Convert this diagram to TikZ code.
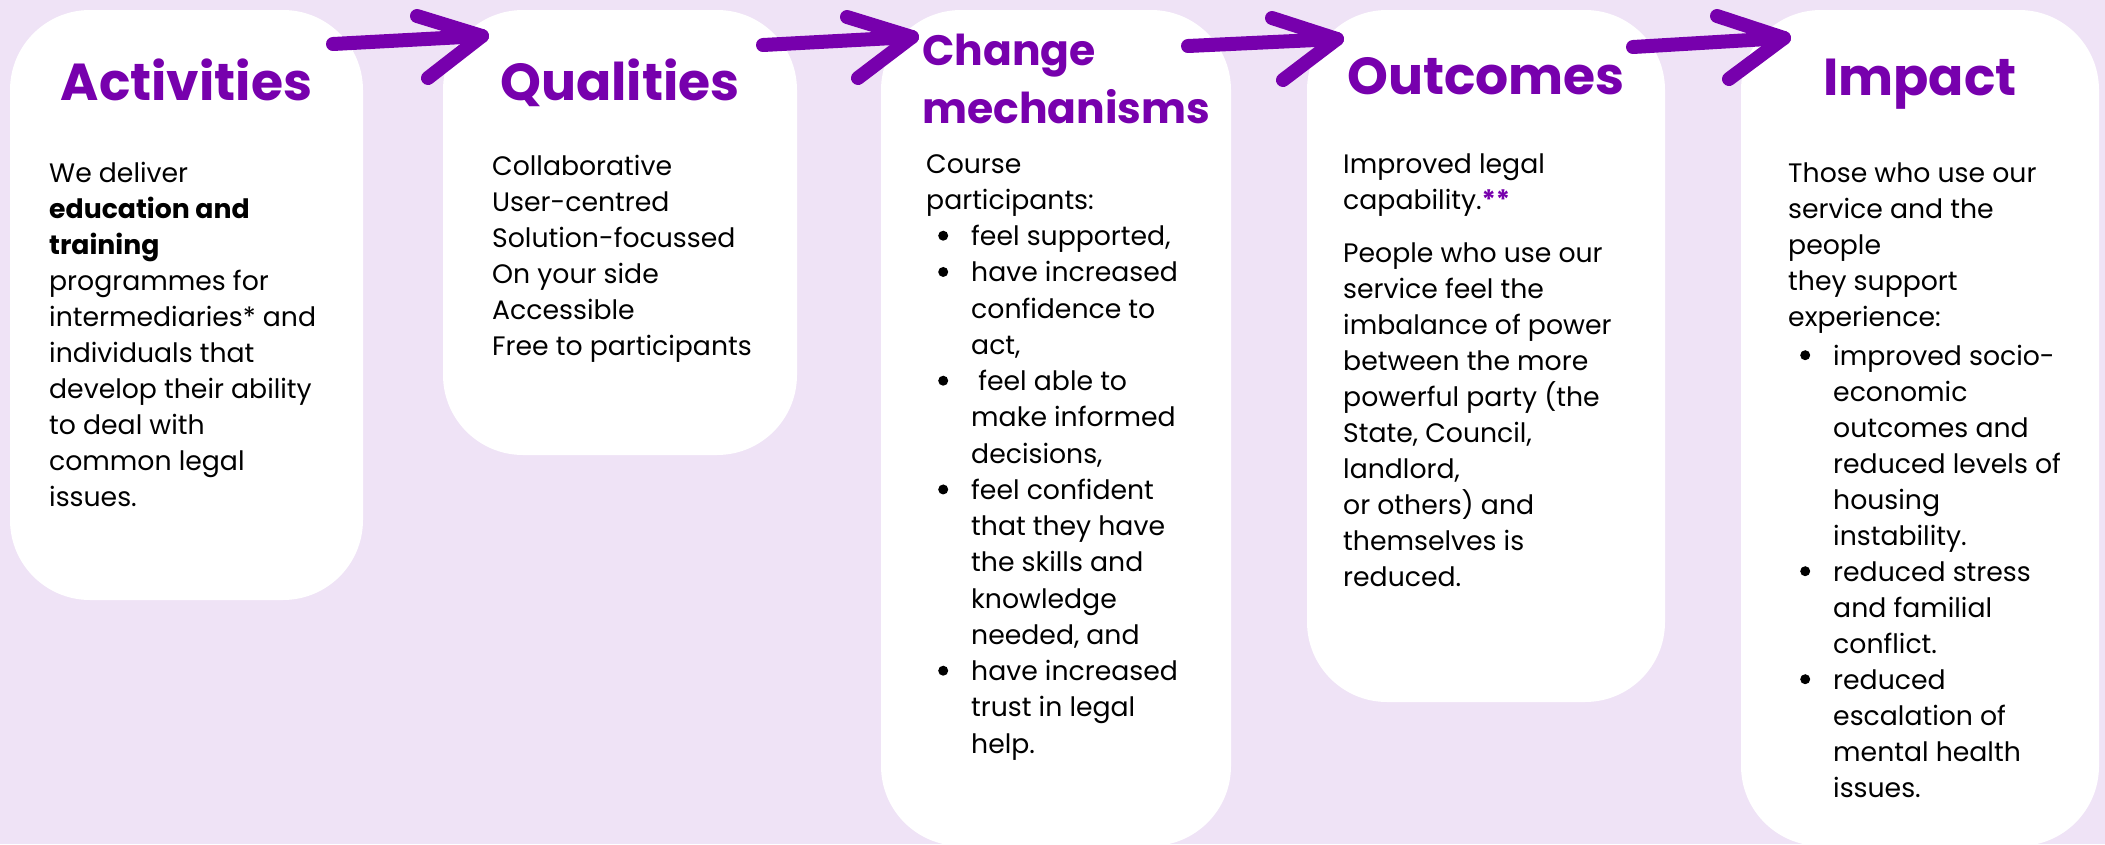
\documentclass[tikz,border=0pt]{standalone}
\usepackage{fontspec}
\setmainfont{Poppins}
\definecolor{lav}{RGB}{239,227,246}
\definecolor{plum}{RGB}{119,0,173}
\tikzset{
  card/.style={fill=white, draw=none, rounded corners=80pt, inner sep=0pt},
  heading/.style={font=\fontsize{52}{58}\selectfont\bfseries, text=plum, inner sep=0pt},
  subheading/.style={font=\fontsize{42.5}{58}\selectfont\bfseries, text=plum, inner sep=0pt,
    align=left, anchor=north west},
  body/.style={font=\fontsize{26.7}{36}\selectfont, align=left, inner sep=0pt,
    anchor=north west, text=black},
  brush/.style={draw=plum, line width=14pt, line cap=round, line join=round},
}
% first-line strut: puts the first baseline 26pt below the node's top
\newcommand\firstln{\rule{0pt}{26pt}}
\newcommand\bigfirstln{\rule{0pt}{33pt}}
% list dot, item marker and continuation indent
\newcommand\listdot{\begin{pgfpicture}\pgfpathcircle{\pgfpointorigin}{5pt}\pgfusepath{fill}\end{pgfpicture}}
\newcommand\bul[1]{\makebox[#1][l]{\hspace*{12pt}\raisebox{5pt}{\listdot}}}
\newcommand\cont[1]{\hspace*{#1}}
\begin{document}
\begin{tikzpicture}[x=1pt,y=-1pt]
\fill[lav] (0,0) rectangle (2105,844);
\useasboundingbox (0,0) rectangle (2105,844);

% cards
\node[card, minimum width=353pt, minimum height=590pt] (act) at (186.5,305) {};
\node[card, minimum width=354pt, minimum height=445pt] (qual) at (620,232.5) {};
\node[card, minimum width=350pt, minimum height=836pt] (chg) at (1056,428) {};
\node[card, minimum width=358pt, minimum height=692pt] (out) at (1486,356) {};
\node[card, minimum width=358pt, minimum height=836pt] (imp) at (1920,428) {};

% headings
\node[heading, anchor=base] (actT) at (186.5,100) {Activities};
\node[heading, anchor=base] (qualT) at (620,100) {Qualities};
\node[subheading] (chgT) at (922,32) {\bigfirstln Change\\mechanisms};
\node[heading, anchor=base] (outT) at (1486,94) {Outcomes};
\node[heading, anchor=base] (impT) at (1920,95) {Impact};

% card texts
\node[body] (actB) at (49,156) {\firstln We deliver\\
  \textbf{education and}\\
  \textbf{training}\\
  programmes for\\
  intermediaries* and\\
  individuals that\\
  develop their ability\\
  to deal with\\
  common legal\\
  issues.};

\node[body] (qualB) at (492,149) {\firstln Collaborative\\
  User-centred\\
  Solution-focussed\\
  On your side\\
  Accessible\\
  Free to participants};

\node[body, font=\fontsize{26.7}{36.25}\selectfont] (chgB) at (926,147) {\firstln Course\\
  participants:\\
  \bul{45pt}feel supported,\\
  \bul{45pt}have increased\\
  \cont{45pt}confidence to\\
  \cont{45pt}act,\\
  \bul{45pt}\ feel able to\\
  \cont{45pt}make informed\\
  \cont{45pt}decisions,\\
  \bul{45pt}feel confident\\
  \cont{45pt}that they have\\
  \cont{45pt}the skills and\\
  \cont{45pt}knowledge\\
  \cont{45pt}needed, and\\
  \bul{45pt}have increased\\
  \cont{45pt}trust in legal\\
  \cont{45pt}help.};

\node[body] (outB) at (1343,147) {\firstln Improved legal\\
  capability.{\color{plum}\bfseries **}\\[17pt]
  People who use our\\
  service feel the\\
  imbalance of power\\
  between the more\\
  powerful party (the\\
  State, Council,\\
  landlord,\\
  or others) and\\
  themselves is\\
  reduced.};

\node[body] (impB) at (1788,156) {\firstln Those who use our\\
  service and the\\
  people\\
  they support\\
  experience:\\[3pt]
  \bul{45pt}improved socio-\\
  \cont{45pt}economic\\
  \cont{45pt}outcomes and\\
  \cont{45pt}reduced levels of\\
  \cont{45pt}housing\\
  \cont{45pt}instability.\\
  \bul{45pt}reduced stress\\
  \cont{45pt}and familial\\
  \cont{45pt}conflict.\\
  \bul{45pt}reduced\\
  \cont{45pt}escalation of\\
  \cont{45pt}mental health\\
  \cont{45pt}issues.};

% brush-stroke arrows between the cards
\coordinate (a1s) at (333,44);  \coordinate (a1t) at (482,36);
\coordinate (a1u) at (417,16);  \coordinate (a1d) at (428,78);
\coordinate (a2s) at (763,45);  \coordinate (a2t) at (912,37);
\coordinate (a2u) at (847,17);  \coordinate (a2d) at (858,78);
\coordinate (a3s) at (1188,46); \coordinate (a3t) at (1337,39);
\coordinate (a3u) at (1272,18); \coordinate (a3d) at (1283,80);
\coordinate (a4s) at (1633,47); \coordinate (a4t) at (1784,38);
\coordinate (a4u) at (1717,16); \coordinate (a4d) at (1729,79);
\foreach \i in {1,2,3,4}{
  \draw[brush] (a\i s) -- (a\i t);
  \draw[brush] (a\i u) -- (a\i t) -- (a\i d);
}
\end{tikzpicture}
\end{document}
